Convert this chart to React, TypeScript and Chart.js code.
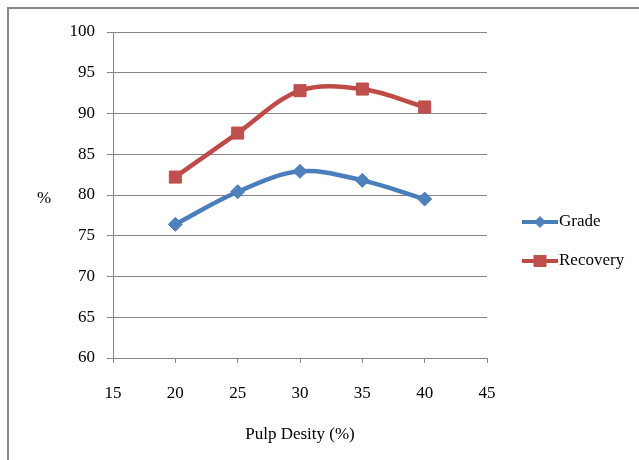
import React, { useEffect, useRef } from "react";
import { Chart, registerables } from "chart.js";

Chart.register(...registerables);

const pulpDensity = [20, 25, 30, 35, 40];
const gradeValues = [76.4, 80.4, 82.9, 81.8, 79.5];
const recoveryValues = [82.2, 87.6, 92.8, 93.0, 90.8];
const xTickRange = { min: 15, max: 45, step: 5 };
const yTickRange = { min: 60, max: 100, step: 5 };
const seriesNames = ["Grade", "Recovery"];
const xTitle = "Pulp Desity (%)";
const yTitle = "%";

const BLUE = "#4A7EBB";
const BLUE_FILL = "#4F81BD";
const RED = "#BE4B48";
const RED_FILL = "#C0504D";
const GRID = "#868686";
const FONT = "'Liberation Serif', 'Times New Roman', serif";

const legendPlugin = {
  id: "customLegend",
  afterDraw(chart: any) {
    const ctx = chart.ctx as CanvasRenderingContext2D;
    const area = chart.chartArea;
    ctx.save();
    // y axis title (horizontal)
    ctx.fillStyle = "#000";
    ctx.font = `17px ${FONT}`;
    ctx.textAlign = "center";
    ctx.textBaseline = "middle";
    ctx.fillText(yTitle, 35, 190);

    const items = [
      { name: seriesNames[0], color: BLUE, fill: BLUE_FILL, style: "diamond", y: 213 },
      { name: seriesNames[1], color: RED, fill: RED_FILL, style: "square", y: 252 },
    ];
    const x0 = area.right + 35;
    const x1 = area.right + 71;
    const xm = (x0 + x1) / 2;
    for (const it of items) {
      ctx.strokeStyle = it.color;
      ctx.lineWidth = 4;
      ctx.beginPath();
      ctx.moveTo(x0, it.y);
      ctx.lineTo(x1, it.y);
      ctx.stroke();
      ctx.fillStyle = it.fill;
      ctx.beginPath();
      if (it.style === "diamond") {
        const r = 6;
        ctx.moveTo(xm, it.y - r);
        ctx.lineTo(xm + r, it.y);
        ctx.lineTo(xm, it.y + r);
        ctx.lineTo(xm - r, it.y);
        ctx.closePath();
      } else {
        const s = 6.5;
        ctx.rect(xm - s, it.y - s + 0.5, 2 * s, 2 * s - 1);
      }
      ctx.fill();
      ctx.fillStyle = "#000";
      ctx.textAlign = "left";
      ctx.textBaseline = "middle";
      ctx.fillText(it.name, x1 + 1, it.y);
    }
    ctx.restore();
  },
};

export default function App() {
  const canvasRef = useRef<HTMLCanvasElement | null>(null);

  useEffect(() => {
    if (!canvasRef.current) return;
    Chart.defaults.font.family = FONT;
    Chart.defaults.font.size = 17;
    Chart.defaults.color = "#000";

    const chart = new Chart(canvasRef.current, {
      type: "line",
      data: {
        datasets: [
          {
            label: seriesNames[0],
            data: pulpDensity.map((x, i) => ({ x, y: gradeValues[i] })),
            borderColor: BLUE,
            backgroundColor: BLUE_FILL,
            borderWidth: 4.5,
            tension: 0.35,
            pointStyle: "rectRot",
            pointRadius: 7,
            pointBackgroundColor: BLUE_FILL,
            pointBorderColor: BLUE,
            pointBorderWidth: 1,
          },
          {
            label: seriesNames[1],
            data: pulpDensity.map((x, i) => ({ x, y: recoveryValues[i] })),
            borderColor: RED,
            backgroundColor: RED_FILL,
            borderWidth: 4.5,
            tension: 0.35,
            pointStyle: "rect",
            pointRadius: 8.5,
            pointBackgroundColor: RED_FILL,
            pointBorderColor: RED,
            pointBorderWidth: 1,
          },
        ],
      },
      options: {
        responsive: false,
        animation: false,
        layout: { padding: { left: 0, top: 23, right: 152, bottom: 0 } },
        plugins: {
          legend: { display: false },
          tooltip: { enabled: false },
        },
        scales: {
          x: {
            type: "linear",
            min: xTickRange.min,
            max: xTickRange.max,
            ticks: { stepSize: xTickRange.step, padding: 20, color: "#000", font: { size: 17, family: FONT } },
            grid: { drawOnChartArea: false, drawTicks: true, tickLength: 5, color: GRID, lineWidth: 1 },
            border: { display: true, color: GRID, width: 1 },
            title: { display: true, text: xTitle, color: "#000", font: { size: 17, family: FONT }, padding: { top: 0, bottom: 15 } },
            afterFit(scale: any) {
              scale.height = 102;
            },
          },
          y: {
            type: "linear",
            min: yTickRange.min,
            max: yTickRange.max,
            ticks: { stepSize: yTickRange.step, padding: 12, color: "#000", font: { size: 17, family: FONT } },
            grid: { drawTicks: true, tickLength: 6, color: GRID, lineWidth: 1 },
            border: { display: true, color: GRID, width: 1 },
            afterFit(scale: any) {
              scale.width = 104;
            },
          },
        },
      },
      plugins: [legendPlugin],
    } as any);
    return () => chart.destroy();
  }, []);

  return (
    <div
      style={{
        position: "fixed",
        left: 7,
        top: 7,
        width: 660,
        height: 480,
        border: "2px solid #888888",
        background: "#fff",
      }}
    >
      <canvas
        ref={canvasRef}
        width={630}
        height={451}
        style={{ position: "absolute", left: 0, top: 0, width: 630, height: 451 }}
      />
    </div>
  );
}
